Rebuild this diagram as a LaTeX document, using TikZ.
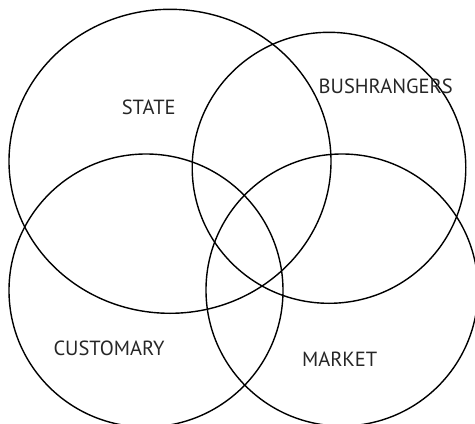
\documentclass[tikz,border=0pt]{standalone}
\usepackage{fontspec}
\setmainfont{PT Sans}
\begin{document}
\begin{tikzpicture}[x=1pt,y=-1pt,
  setline/.style={line width=1.4pt,draw=black},
  setlabel/.style={font=\fontsize{20.5}{24}\selectfont,text=black!85,inner sep=0pt,anchor=center}]
\useasboundingbox (0,0) rectangle (475,424);
\clip (0,0) rectangle (475,424);
\draw[setline] (170,161.3) ellipse [x radius=161, y radius=152];
\draw[setline] (329,167.8) ellipse [x radius=136.8, y radius=135.5];
\draw[setline] (146,290.5) ellipse [x radius=137, y radius=136.5];
\draw[setline] (342,290) ellipse [x radius=136, y radius=136];
\node[setlabel] (state) at (148.7,107.5) {STATE};
\node[setlabel] (bush) at (385.7,86.7) {BUSHRANGERS};
\node[setlabel] (cust) at (109,348.3) {CUSTOMARY};
\node[setlabel] (market) at (339.7,359.5) {MARKET};
\end{tikzpicture}
\end{document}
